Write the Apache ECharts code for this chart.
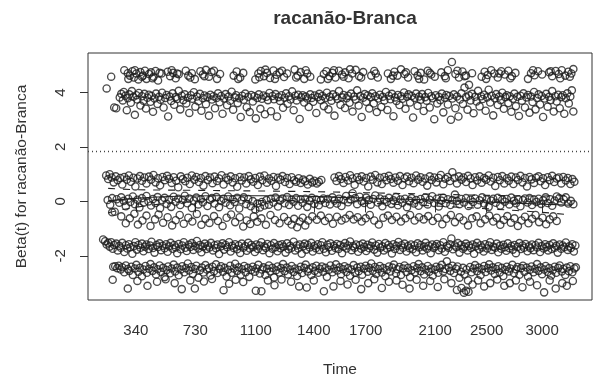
<!DOCTYPE html>
<html>
<head>
<meta charset="utf-8">
<script src="https://cdn.jsdelivr.net/npm/echarts@6/dist/echarts.min.js"></script>
<style>
  html, body { margin: 0; padding: 0; background: #fff; }
  #chart { width: 597px; height: 387px; }
</style>
</head>
<body>
<div id="chart"></div>
<script>
// x is the transformed time scale (0-100), labels are the real times
var timeTicks = [340, 730, 1100, 1400, 1700, 2100, 2500, 3000];
var tickPos = [9.5, 21.3, 33.3, 44.8, 55.1, 68.9, 79.1, 90.1];
var yTicks = [-2, 0, 2, 4];
var coef = 1.83;

// upper group of residuals
var bandTop = [[3.7,4.15],[4.6,4.58],[5.2,3.45],[5.6,3.42],
[7.2,4.82],[7.9,4.71],[8.3,4.62],[8.8,4.78],[9.1,4.55],[9.6,4.7],[10.0,4.48],[10.4,4.75],[10.9,4.62],[11.3,4.8],[11.6,4.5],[12.1,4.68],[12.5,4.74],[13.0,4.58],[13.4,4.79],[13.9,4.44],[14.6,4.7],[15.8,4.76],[16.3,4.6],[16.9,4.72],[17.4,4.52],[18.0,4.67],[19.4,4.8],[19.9,4.62],[20.6,4.71],[21.2,4.49],[22.3,4.78],[22.8,4.66],[23.4,4.83],[24.0,4.58],[24.5,4.75],[25.6,4.5],[26.2,4.68],[28.9,4.62],[29.5,4.77],[30.2,4.55],[30.8,4.72],[33.2,4.48],[33.8,4.7],[34.3,4.79],[34.9,4.6],[35.5,4.72],[36.1,4.53],[36.8,4.81],[37.4,4.65],[38.0,4.74],[38.9,4.57],[39.5,4.7],[41.0,4.84],[41.6,4.62],[42.2,4.75],[42.9,4.5],[43.5,4.7],[44.1,4.58],[46.2,4.48],[46.8,4.68],[47.3,4.78],[47.9,4.6],[48.5,4.72],[49.1,4.55],[49.8,4.8],[50.4,4.66],[51.0,4.74],[51.7,4.52],[52.4,4.7],[53.1,4.83],[53.8,4.6],[54.6,4.75],[56.2,4.62],[56.8,4.79],[57.5,4.55],[59.5,4.7],[60.1,4.5],[60.8,4.76],[61.4,4.62],[62.1,4.85],[62.8,4.68],[63.5,4.55],[64.8,4.78],[65.4,4.62],[66.0,4.72],[66.7,4.48],[67.4,4.8],[68.1,4.66],[68.8,4.58],[70.1,4.74],[70.8,4.6],[71.4,4.82],[72.2,5.12],[72.9,4.68],[73.6,4.55],[74.3,4.77],[75.0,4.62],[75.6,4.28],[76.2,4.71],[78.1,4.58],[78.7,4.76],[79.3,4.64],[80.0,4.82],[80.6,4.7],[81.3,4.55],[82.0,4.78],[82.7,4.66],[83.4,4.8],[84.1,4.6],[84.8,4.72],[87.3,4.5],[87.9,4.71],[88.6,4.63],[89.3,4.78],[90.1,4.66],[91.5,4.74],[92.1,4.6],[92.8,4.79],[93.4,4.68],[94.0,4.82],[94.7,4.62],[95.3,4.76],[95.9,4.7],[96.3,4.86],
[8.0,4.5],[9.3,4.82],[10.7,4.58],[12.8,4.52],[14.2,4.72],[16.6,4.82],[17.7,4.7],[20.3,4.55],[23.1,4.6],[25.0,4.8],[29.8,4.5],[34.0,4.56],[35.2,4.84],[37.1,4.5],[38.5,4.8],[41.3,4.55],[43.2,4.82],[47.6,4.5],[48.8,4.82],[50.7,4.58],[52.0,4.85],[54.2,4.55],[57.1,4.7],[60.5,4.62],[63.1,4.74],[65.7,4.5],[67.8,4.72],[71.0,4.52],[73.3,4.8],[74.7,4.6],[79.0,4.5],[81.6,4.7],[83.8,4.52],[88.3,4.82],[91.8,4.78],[93.7,4.52],[95.6,4.58]];

var bandUpper = [[6.3,3.82],[6.6,3.95],[6.9,3.71],[7.1,4.02],[7.4,3.88],[7.7,3.35],[7.9,3.79],[8.2,3.93],[8.5,3.62],[8.7,4.05],[9.0,3.84],[9.3,3.18],[9.6,3.9],[9.8,3.74],[10.1,3.98],[10.4,3.52],[10.7,3.86],[11.0,3.7],[11.2,3.95],[11.5,3.41],[11.8,3.81],[12.1,3.92],[12.4,3.66],[12.6,3.87],[12.9,3.29],[13.2,3.78],[13.5,3.96],[13.8,3.58],[14.1,3.84],[14.4,3.73],[14.7,3.99],[15.0,3.45],[15.3,3.8],[15.6,3.91],
[15.9,3.12],[16.2,3.85],[16.5,3.69],[16.8,3.97],[17.1,3.55],[17.4,3.83],[17.7,3.76],[18.0,4.06],[18.3,3.38],[18.6,3.88],[18.9,3.72],[19.2,3.93],[19.5,3.6],[19.8,3.81],[20.1,3.25],[20.4,3.9],[20.7,3.77],[21.0,4.01],[21.3,3.48],[21.6,3.85],[21.9,3.68],[22.2,3.95],[22.5,3.33],[22.8,3.79],[23.1,3.89],[23.4,3.57],[23.7,3.83],[24.0,3.15],[24.3,3.92],[24.6,3.74],[24.9,3.86],[25.2,3.42],[25.5,3.8],[25.8,3.97],
[26.1,3.64],[26.4,3.87],[26.7,3.22],[27.0,3.78],[27.3,3.94],[27.6,3.53],[27.9,3.85],[28.2,3.7],[28.5,4.03],[28.8,3.37],[29.1,3.82],[29.4,3.9],[29.7,3.61],[30.0,3.79],[30.3,3.1],[30.6,3.88],[30.9,3.73],[31.2,3.96],[31.5,3.46],[31.8,3.84],[32.1,3.28],[32.4,3.91],[32.7,3.67],[33.0,3.86],[33.3,3.05],[33.6,3.8],[33.9,3.93],[34.2,3.4],[34.5,3.77],[34.8,3.89],[35.1,3.2],[35.4,3.84],[35.7,3.72],[36.0,3.98],
[36.3,3.31],[36.6,3.87],[36.9,3.75],[37.2,3.94],[37.5,3.12],[37.8,3.83],[38.1,3.69],[38.4,3.9],[38.7,3.44],[39.0,3.81],[39.3,3.97],[39.6,3.59],[39.9,3.86],[40.2,3.74],[40.5,4.04],[40.8,3.35],[41.1,3.88],[41.4,3.71],[41.7,3.92],[42.0,3.03],[42.3,3.82],[42.6,3.9],[42.9,3.63],[43.2,3.85],[43.5,3.78],[43.8,3.47],[44.1,3.93],[44.4,3.8],[44.7,3.66],[45.0,3.89],[45.3,3.25],[45.6,3.83],[45.9,3.95],
[46.2,3.72],[46.5,3.87],[46.8,3.5],[47.1,3.8],[47.4,3.99],[47.7,3.38],[48.0,3.84],[48.3,3.7],[48.6,3.93],[48.9,3.15],[49.2,3.86],[49.5,3.76],[49.8,4.05],[50.1,3.55],[50.4,3.82],[50.7,3.91],[51.0,3.43],[51.3,3.79],[51.6,3.88],[51.9,3.62],[52.2,3.96],[52.5,3.3],[52.8,3.85],[53.1,3.74],[53.4,4.08],[53.7,3.52],[54.0,3.87],[54.3,3.1],[54.6,3.81],[54.9,3.94],[55.2,3.66],[55.5,3.89],[55.8,3.41],
[56.1,3.83],[56.4,3.97],[56.7,3.6],[57.0,3.86],[57.3,3.28],[57.6,3.78],[57.9,3.92],[58.2,3.47],[58.5,3.84],[58.8,3.71],[59.1,4.02],[59.4,3.36],[59.7,3.88],[60.0,3.75],[60.3,3.95],[60.6,3.13],[60.9,3.82],[61.2,3.69],[61.5,3.91],[61.8,3.54],[62.1,3.86],[62.4,3.77],[62.7,4.0],[63.0,3.4],[63.3,3.84],[63.6,3.93],[63.9,3.63],[64.2,3.87],[64.5,3.08],[64.8,3.8],[65.1,3.96],[65.4,3.51],[65.7,3.85],
[66.0,3.73],[66.3,3.94],[66.6,3.32],[66.9,3.83],[67.2,3.7],[67.5,3.98],[67.8,3.45],[68.1,3.86],[68.4,3.79],[68.7,3.02],[69.0,3.9],[69.3,3.6],[69.6,3.84],[69.9,3.72],[70.2,3.96],[70.5,3.27],[70.8,3.81],[71.1,3.91],[71.4,3.56],[71.7,3.87],[72.0,3.0],[72.3,3.78],[72.6,3.93],[72.9,3.42],[73.2,3.85],[73.5,3.12],[73.8,3.74],[74.1,3.97],[74.4,3.58],[74.7,4.18],[75.0,3.83],[75.3,3.37],[75.6,3.89],
[75.9,3.71],[76.2,3.95],[76.5,3.24],[76.8,3.84],[77.1,3.67],[77.4,4.06],[77.7,3.49],[78.0,3.86],[78.3,3.76],[78.6,3.92],[78.9,3.33],[79.2,3.82],[79.5,4.1],[79.8,3.63],[80.1,3.88],[80.4,3.16],[80.7,3.79],[81.0,3.94],[81.3,3.54],[81.6,3.85],[81.9,3.72],[82.2,3.99],[82.5,3.4],[82.8,3.83],[83.1,3.9],[83.4,3.61],[83.7,3.86],[84.0,3.29],[84.3,3.77],[84.6,3.96],[84.9,3.5],[85.2,3.84],[85.5,3.14],
[85.8,3.88],[86.1,3.7],[86.4,3.97],[86.7,3.45],[87.0,3.82],[87.3,3.91],[87.6,3.26],[87.9,3.85],[88.2,3.65],[88.5,4.02],[88.8,3.38],[89.1,3.8],[89.4,3.93],[89.7,3.56],[90.0,3.87],[90.3,3.1],[90.6,3.78],[90.9,3.95],[91.2,3.48],[91.5,3.84],[91.8,3.72],[92.1,4.05],[92.4,3.3],[92.7,3.86],[93.0,3.67],[93.3,3.92],[93.6,3.42],[93.9,3.83],[94.2,3.9],[94.5,3.22],[94.8,3.79],[95.1,3.97],[95.4,3.6],[95.7,3.85],[96.0,4.08],[96.3,3.3]];

// middle group
var bandMidHigh = [[3.6,0.95],[4.0,0.82],[4.3,1.0],[4.7,0.88],[5.1,0.7],[5.5,0.92],[5.9,0.78],[6.4,0.86],[6.8,0.62],[7.2,0.9],[7.7,0.8],[8.1,0.95],[8.5,0.72],[9.0,0.87],[9.4,0.55],[9.8,0.84],[10.3,0.93],[10.7,0.76],[11.2,0.88],[11.6,0.66],[12.1,0.91],[12.5,0.8],[13.0,0.97],[13.4,0.7],[13.9,0.85],[14.3,0.59],[14.8,0.9],[15.2,0.78],[15.7,0.94],[16.1,0.83],[16.6,0.68],[17.0,0.89],[17.5,0.76],[17.9,0.52],[18.4,0.92],[18.8,0.82],[19.3,0.74],[19.7,0.87],[20.2,0.64],[20.6,0.95],[21.1,0.8],[21.5,0.9],[22.0,0.71],[22.4,0.86],[22.9,0.58],[23.3,0.93],[23.8,0.79],[24.2,0.88],[24.7,0.67],[25.1,0.91],[25.6,0.75],[26.0,0.84],[26.5,0.96],[26.9,0.62],[27.4,0.87],[27.8,0.79],[28.3,0.92],[28.7,0.7],[29.2,0.85],[29.6,0.54],[30.1,0.9],[30.5,0.77],[31.0,0.88],[31.4,0.66],[31.9,0.93],[32.3,0.81],[32.8,0.72],[33.2,0.86],[33.7,0.6],[34.1,0.91],[34.6,0.78],[35.0,0.95],[35.5,0.69],[35.9,0.84],[36.4,0.76],[36.8,0.9],[37.3,0.57],[37.7,0.87],[38.2,0.8],[38.6,0.93],[39.1,0.71],[39.5,0.86],[40.0,0.64],[40.4,0.89],[40.9,0.78],[41.3,0.72],[41.8,0.85],[42.2,0.68],[42.7,0.8],[43.1,0.74],[43.6,0.62],[44.0,0.83],[44.5,0.7],[44.9,0.76],[45.4,0.66],[45.8,0.72],[46.3,0.79],
[48.9,0.88],[49.3,0.75],[49.8,0.93],[50.2,0.82],[50.7,0.68],[51.1,0.9],[51.6,0.77],[52.0,0.96],[52.5,0.84],[52.9,0.61],[53.4,0.89],[53.8,0.79],[54.3,0.92],[54.7,0.73],[55.2,0.86],[55.6,0.55],[56.1,0.91],[56.5,0.8],[57.0,0.97],[57.4,0.7],[57.9,0.87],[58.3,0.64],[58.8,0.9],[59.2,0.78],[59.7,0.94],[60.1,0.82],[60.6,0.69],[61.0,0.88],[61.5,0.76],[61.9,0.93],[62.4,0.6],[62.8,0.85],[63.3,0.91],[63.7,0.74],[64.2,0.87],[64.6,0.67],[65.1,0.95],[65.5,0.8],[66.0,0.89],[66.4,0.72],[66.9,0.84],[67.3,0.58],[67.8,0.92],[68.2,0.79],[68.7,0.88],[69.1,0.7],[69.6,0.86],[70.0,0.97],[70.5,0.63],[70.9,0.83],[71.4,0.9],[71.8,0.75],[72.3,1.07],[72.7,0.86],[73.2,0.66],[73.6,0.92],[74.1,0.8],[74.5,0.88],[75.0,0.71],[75.4,0.94],[75.9,0.84],[76.3,0.6],[76.8,0.89],[77.2,0.77],[77.7,0.92],[78.1,0.69],[78.6,0.86],[79.0,0.8],[79.5,0.95],[79.9,0.73],[80.4,0.87],[80.8,0.57],[81.3,0.9],[81.7,0.78],[82.2,0.93],[82.6,0.66],[83.1,0.85],[83.5,0.76],[84.0,0.91],[84.4,0.64],[84.9,0.88],[85.3,0.79],[85.8,0.94],[86.2,0.7],[86.7,0.86],[87.1,0.55],[87.6,0.9],[88.0,0.81],[88.5,0.68],[88.9,0.87],[89.4,0.92],[89.8,0.74],[90.3,0.85],[90.7,0.6],[91.2,0.89],[91.6,0.78],[92.1,0.94],[92.5,0.71],[93.0,0.84],[93.4,0.88],[93.9,0.66],[94.3,0.9],[94.8,0.77],[95.2,0.86],[95.7,0.64],[96.1,0.82],[96.5,0.72]];

var bandMid = [[3.9,0.05],[4.4,-0.12],[4.8,0.12],[5.3,-0.38],[5.7,0.08],[6.2,-0.05],[6.6,0.15],[7.1,0.02],[7.5,-0.18],[8.0,0.1],[8.4,-0.02],[8.9,0.18],[9.3,-0.1],[9.8,0.06],[10.2,-0.22],[10.7,0.12],[11.1,-0.04],[11.6,0.2],[12.0,0.0],[12.5,-0.15],[12.9,0.09],[13.4,-0.06],[13.8,0.16],[14.3,-0.25],[14.7,0.04],[15.2,0.13],[15.6,-0.09],[16.1,0.07],[16.5,-0.2],[17.0,0.17],[17.4,-0.01],[17.9,0.1],[18.3,-0.13],[18.8,0.05],[19.2,0.21],[19.7,-0.07],[20.1,0.11],[20.6,-0.24],[21.0,0.03],[21.5,0.14],[21.9,-0.11],[22.4,0.08],[22.8,-0.03],[23.3,0.19],[23.7,-0.17],[24.2,0.06],[24.6,0.12],[25.1,-0.08],[25.5,0.16],[26.0,-0.21],[26.4,0.02],[26.9,0.1],[27.3,-0.05],[27.8,0.18],[28.2,-0.14],[28.7,0.07],[29.1,-0.02],[29.6,0.13],[30.0,-0.26],[30.5,0.04],[30.9,0.15],[31.4,-0.1],[31.8,0.09],[32.3,-0.18],[32.7,0.01],[33.2,-0.3],[33.6,-0.08],[34.1,-0.22],[34.5,-0.02],[35.0,-0.15],[35.4,0.05],[35.9,-0.12],[36.3,0.1],[36.8,-0.04],[37.2,0.14],[37.7,-0.19],[38.1,0.03],[38.6,0.11],[39.0,-0.07],[39.5,0.16],[39.9,-0.13],[40.4,0.06],[40.8,-0.01],[41.3,0.12],[41.7,-0.16],[42.2,0.08],[42.6,-0.05],[43.1,0.1],[43.5,-0.2],[44.0,0.02],[44.4,0.13],[44.9,-0.09],[45.3,0.07],[45.8,-0.14],[46.2,0.04],[46.7,0.11],[47.1,-0.06],[47.6,0.09],[48.0,-0.11],[48.5,0.15],[48.9,0.03],[49.4,-0.08],[49.8,0.1],[50.3,-0.17],[50.7,0.05],[51.2,0.2],[51.6,-0.03],[52.1,0.08],[52.5,0.3],[53.0,0.12],[53.4,-0.1],[53.9,0.17],[54.3,0.01],[54.8,-0.06],[55.2,0.14],[55.7,0.05],[56.1,-0.12],[56.6,0.09],[57.0,0.22],[57.5,-0.04],[57.9,0.11],[58.4,-0.18],[58.8,0.06],[59.3,-0.02],[59.7,0.13],[60.2,-0.09],[60.6,0.04],[61.1,0.16],[61.5,-0.14],[62.0,0.07],[62.4,-0.05],[62.9,0.1],[63.3,-0.21],[63.8,0.02],[64.2,0.12],[64.7,-0.08],[65.1,0.05],[65.6,-0.16],[66.0,0.09],[66.5,-0.03],[66.9,0.14],[67.4,-0.11],[67.8,0.06],[68.3,0.19],[68.7,-0.06],[69.2,0.1],[69.6,-0.19],[70.1,0.03],[70.5,0.13],[71.0,-0.07],[71.4,0.08],[71.9,-0.13],[72.3,0.05],[72.8,0.25],[73.2,0.02],[73.7,-0.1],[74.1,0.09],[74.6,-0.04],[75.0,0.12],[75.5,-0.17],[75.9,0.06],[76.4,-0.02],[76.8,0.11],[77.3,-0.12],[77.7,0.04],[78.2,0.15],[78.6,-0.08],[79.1,0.07],[79.5,-0.2],[80.0,0.03],[80.4,0.1],[80.9,-0.05],[81.3,0.13],[81.8,-0.15],[82.2,0.06],[82.7,-0.01],[83.1,0.09],[83.6,-0.11],[84.0,0.14],[84.5,0.02],[84.9,-0.07],[85.4,0.08],[85.8,-0.18],[86.3,0.05],[86.7,0.11],[87.2,-0.04],[87.6,0.12],[88.1,-0.13],[88.5,0.07],[89.0,-0.02],[89.4,0.1],[89.9,-0.09],[90.3,0.04],[90.8,0.15],[91.2,-0.06],[91.7,0.08],[92.1,-0.16],[92.6,0.03],[93.0,0.18],[93.5,0.12],[93.9,-0.04],[94.4,0.07],[94.8,0.15],[95.3,-0.08],[95.8,0.02],[96.3,-0.1]];

var bandMidLow = [[4.8,-0.4],[6.6,-0.55],[7.5,-0.8],[8.3,-0.62],[9.2,-0.45],[9.9,-0.85],[10.8,-0.7],[11.6,-0.52],[12.4,-0.9],[13.3,-0.66],[14.0,-0.48],[14.9,-0.78],[15.8,-0.58],[16.7,-0.88],[17.4,-0.69],[18.2,-0.5],[19.0,-0.82],[19.9,-0.6],[20.7,-0.74],[21.6,-0.46],[22.5,-0.86],[23.3,-0.64],[24.1,-0.79],[25.0,-0.54],[25.8,-0.72],[26.7,-0.9],[27.5,-0.6],[28.4,-0.48],[29.2,-0.76],[30.1,-0.58],[30.8,-0.92],[31.5,-0.7],[32.2,-0.83],[32.9,-0.55],[33.6,-0.75],[34.4,-0.62],[35.3,-0.86],[36.2,-0.5],[37.1,-0.68],[38.0,-0.8],[38.9,-0.57],[39.7,-0.72],[40.4,-0.85],[40.9,-0.64],[41.5,-0.95],[42.0,-0.74],[42.6,-0.6],[43.1,-0.88],[43.7,-0.7],[44.5,-0.55],[45.4,-0.67],[46.2,-0.52],[47.0,-0.72],[47.8,-0.6],[48.6,-0.82],[49.4,-0.56],[50.3,-0.7],[51.1,-0.63],[51.9,-0.5],[52.7,-0.66],[53.5,-0.58],[54.3,-0.74],[55.1,-0.62],[55.9,-0.5],[56.8,-0.7],[57.7,-0.85],[58.6,-0.6],[59.5,-0.52],[60.3,-0.68],[61.2,-0.56],[62.1,-0.74],[63.0,-0.62],[63.9,-0.5],[64.8,-0.7],[65.7,-0.58],[66.6,-0.66],[67.5,-0.54],[68.4,-0.72],[69.4,-0.6],[70.3,-0.84],[71.1,-0.64],[72.0,-0.5],[72.8,-0.76],[73.7,-0.58],[74.5,-0.7],[75.4,-0.88],[76.2,-0.62],[77.1,-0.55],[77.9,-0.8],[78.8,-0.66],[79.6,-0.52],[80.4,-0.74],[81.1,-0.6],[81.8,-0.86],[82.5,-0.68],[83.2,-0.54],[83.9,-0.78],[84.6,-0.62],[85.3,-0.9],[86.0,-0.7],[86.7,-0.56],[87.4,-0.8],[88.1,-0.64],[88.8,-0.5],[89.5,-0.76],[90.2,-0.6],[90.9,-0.84],[91.6,-0.66],[92.3,-0.55],[93.0,-0.72]];

// lower group
var bandLow = [[3.0,-1.4],[3.4,-1.46],[3.7,-1.58],[4.0,-1.52],[4.3,-1.66],[4.6,-1.5],[4.9,-1.74],[5.2,-1.6],[5.6,-1.55],[5.9,-1.8],[6.2,-1.63],[6.5,-1.7],[6.8,-1.52],[7.2,-1.86],[7.5,-1.61],[7.8,-1.73],[8.1,-1.57],[8.4,-1.68],[8.8,-1.92],[9.1,-1.64],[9.4,-1.5],[9.7,-1.77],[10.0,-1.6],[10.4,-1.7],[10.7,-1.55],[11.0,-1.83],[11.3,-1.66],[11.6,-1.58],[12.0,-1.75],[12.3,-1.62],[12.6,-1.48],[12.9,-1.71],[13.2,-1.88],[13.6,-1.6],[13.9,-1.67],[14.2,-1.54],[14.5,-1.79],[14.8,-1.63],[15.2,-1.72],[15.5,-1.57],[15.8,-1.85],[16.1,-1.65],[16.4,-1.52],[16.8,-1.74],[17.1,-1.6],[17.4,-1.69],[17.7,-1.9],[18.0,-1.56],[18.4,-1.76],[18.7,-1.62],[19.0,-1.5],[19.3,-1.7],[19.6,-1.82],[20.0,-1.59],[20.3,-1.67],[20.6,-1.53],[20.9,-1.78],[21.2,-1.64],[21.6,-1.45],[21.9,-1.73],[22.2,-1.6],[22.5,-1.87],[22.8,-1.66],[23.2,-1.55],[23.5,-1.75],[23.8,-1.62],[24.1,-1.69],[24.4,-1.52],[24.8,-1.8],[25.1,-1.61],[25.4,-1.72],[25.7,-1.58],[26.0,-1.93],[26.4,-1.65],[26.7,-1.54],[27.0,-1.77],[27.3,-1.6],[27.6,-1.68],[28.0,-1.5],[28.3,-1.84],[28.6,-1.63],[28.9,-1.71],[29.2,-1.57],[29.6,-1.76],[29.9,-1.62],[30.2,-1.89],[30.5,-1.55],[30.8,-1.7],[31.2,-1.64],[31.5,-1.81],[31.8,-1.52],[32.1,-1.73],[32.4,-1.6],[32.8,-1.67],[33.1,-1.86],[33.4,-1.58],[33.7,-1.75],[34.0,-1.62],[34.4,-1.5],[34.7,-1.79],[35.0,-1.65],[35.3,-1.71],[35.6,-1.56],[36.0,-1.9],[36.3,-1.61],[36.6,-1.74],[36.9,-1.53],[37.2,-1.68],[37.6,-1.83],[37.9,-1.6],[38.2,-1.72],[38.5,-1.57],[38.8,-1.66],[39.2,-1.88],[39.5,-1.54],[39.8,-1.76],[40.1,-1.63],[40.4,-1.7],[40.8,-1.48],[41.1,-1.8],[41.4,-1.62],[41.7,-1.73],[42.0,-1.58],[42.4,-1.92],[42.7,-1.65],[43.0,-1.55],[43.3,-1.77],[43.6,-1.6],[44.0,-1.69],[44.3,-1.52],[44.6,-1.84],[44.9,-1.64],[45.2,-1.72],[45.6,-1.57],[45.9,-1.78],[46.2,-1.61],[46.5,-1.5],[46.8,-1.74],[47.2,-1.87],[47.5,-1.59],[47.8,-1.68],[48.1,-1.54],[48.4,-1.81],[48.8,-1.63],[49.1,-1.71],[49.4,-1.56],[49.7,-1.75],[50.0,-1.6],[50.4,-1.9],[50.7,-1.66],[51.0,-1.53],[51.3,-1.73],[51.6,-1.62],[52.0,-1.47],[52.3,-1.79],[52.6,-1.64],[52.9,-1.7],[53.2,-1.58],[53.6,-1.85],[53.9,-1.61],[54.2,-1.74],[54.5,-1.55],[54.8,-1.67],[55.2,-1.82],[55.5,-1.59],[55.8,-1.72],[56.1,-1.64],[56.4,-1.51],[56.8,-1.77],[57.1,-1.62],[57.4,-1.88],[57.7,-1.56],[58.0,-1.7],[58.4,-1.65],[58.7,-1.8],[59.0,-1.53],[59.3,-1.73],[59.6,-1.6],[60.0,-1.68],[60.3,-1.91],[60.6,-1.57],[60.9,-1.75],[61.2,-1.63],[61.6,-1.49],[61.9,-1.78],[62.2,-1.61],[62.5,-1.7],[62.8,-1.55],[63.2,-1.84],[63.5,-1.64],[63.8,-1.72],[64.1,-1.58],[64.4,-1.76],[64.8,-1.62],[65.1,-1.87],[65.4,-1.54],[65.7,-1.69],[66.0,-1.6],[66.4,-1.8],[66.7,-1.66],[67.0,-1.52],[67.3,-1.74],[67.6,-1.63],[68.0,-1.9],[68.3,-1.58],[68.6,-1.71],[68.9,-1.65],[69.2,-1.56],[69.6,-1.79],[69.9,-1.61],[70.2,-1.73],[70.5,-1.5],[70.8,-1.85],[71.2,-1.64],[71.5,-1.7],[71.8,-1.57],[72.1,-1.36],[72.4,-1.76],[72.8,-1.62],[73.1,-1.68],[73.4,-1.53],[73.7,-1.88],[74.0,-1.6],[74.4,-1.74],[74.7,-1.66],[75.0,-1.55],[75.3,-1.8],[75.6,-1.63],[76.0,-1.71],[76.3,-1.58],[76.6,-1.92],[76.9,-1.65],[77.2,-1.52],[77.6,-1.76],[77.9,-1.61],[78.2,-1.69],[78.5,-1.84],[78.8,-1.57],[79.2,-1.73],[79.5,-1.62],[79.8,-1.5],[80.1,-1.78],[80.4,-1.66],[80.8,-1.7],[81.1,-1.55],[81.4,-1.87],[81.7,-1.63],[82.0,-1.74],[82.4,-1.59],[82.7,-1.68],[83.0,-1.81],[83.3,-1.54],[83.6,-1.72],[84.0,-1.64],[84.3,-1.77],[84.6,-1.6],[84.9,-1.9],[85.2,-1.67],[85.6,-1.53],[85.9,-1.75],[86.2,-1.62],[86.5,-1.7],[86.8,-1.56],[87.2,-1.83],[87.5,-1.65],[87.8,-1.72],[88.1,-1.58],[88.4,-1.79],[88.8,-1.61],[89.1,-1.69],[89.4,-1.52],[89.7,-1.86],[90.0,-1.64],[90.4,-1.73],[90.7,-1.57],[91.0,-1.67],[91.3,-1.8],[91.6,-1.6],[92.0,-1.75],[92.3,-1.54],[92.6,-1.7],[92.9,-1.63],[93.2,-1.88],[93.6,-1.58],[93.9,-1.74],[94.2,-1.62],[94.5,-1.68],[94.8,-1.51],[95.2,-1.78],[95.5,-1.65],[95.8,-1.71],[96.1,-1.57],[96.4,-1.84],[96.7,-1.62]];

var bandBottom = [[5.0,-2.4],[5.4,-2.38],[5.8,-2.45],[6.1,-2.36],[6.5,-2.5],[6.8,-2.42],[7.2,-2.6],[7.5,-2.35],[7.9,-2.48],[8.2,-2.55],[8.6,-2.4],[8.9,-2.7],[9.3,-2.46],[9.6,-2.33],[10.0,-2.58],[10.3,-2.44],[10.7,-2.75],[11.0,-2.5],[11.4,-2.37],[11.7,-2.62],[12.1,-2.47],[12.4,-2.3],[12.8,-2.55],[13.1,-2.42],[13.5,-2.68],[13.8,-2.49],[14.2,-2.35],[14.5,-2.59],[14.9,-2.44],[15.2,-2.78],[15.6,-2.52],[15.9,-2.39],[16.3,-2.64],[16.6,-2.46],[17.0,-2.32],[17.3,-2.57],[17.7,-2.43],[18.0,-2.71],[18.4,-2.5],[18.7,-2.38],[19.1,-2.6],[19.4,-2.45],[19.8,-2.28],[20.1,-2.54],[20.5,-2.41],[20.8,-2.66],[21.2,-2.48],[21.5,-2.36],[21.9,-2.8],[22.2,-2.53],[22.6,-2.43],[22.9,-2.61],[23.3,-2.34],[23.6,-2.5],[24.0,-2.45],[24.3,-2.72],[24.7,-2.4],[25.0,-2.56],[25.4,-2.31],[25.7,-2.63],[26.1,-2.47],[26.4,-2.38],[26.8,-2.58],[27.1,-2.44],[27.5,-2.76],[27.8,-2.51],[28.2,-2.36],[28.5,-2.62],[28.9,-2.46],[29.2,-2.29],[29.6,-2.55],[29.9,-2.42],[30.3,-2.69],[30.6,-2.49],[31.0,-2.37],[31.3,-2.6],[31.7,-2.44],[32.0,-2.77],[32.4,-2.52],[32.7,-2.4],[33.1,-2.58],[33.4,-2.46],[33.8,-2.33],[34.1,-2.65],[34.5,-2.5],[34.8,-2.42],[35.2,-2.7],[35.5,-2.47],[35.9,-2.35],[36.2,-2.57],[36.6,-2.44],[36.9,-2.79],[37.3,-2.53],[37.6,-2.39],[38.0,-2.61],[38.3,-2.45],[38.7,-2.3],[39.0,-2.56],[39.4,-2.43],[39.7,-2.68],[40.1,-2.5],[40.4,-2.37],[40.8,-2.59],[41.1,-2.46],[41.5,-2.74],[41.8,-2.52],[42.2,-2.4],[42.5,-2.63],[42.9,-2.44],[43.2,-2.32],[43.6,-2.57],[43.9,-2.48],[44.3,-2.7],[44.6,-2.42],[45.0,-2.55],[45.3,-2.36],[45.7,-2.62],[46.0,-2.47],[46.4,-2.39],[46.7,-2.58],[47.1,-2.44],[47.4,-2.77],[47.8,-2.51],[48.1,-2.35],[48.5,-2.6],[48.8,-2.46],[49.2,-2.31],[49.5,-2.54],[49.9,-2.42],[50.2,-2.67],[50.6,-2.49],[50.9,-2.38],[51.3,-2.59],[51.6,-2.45],[52.0,-2.73],[52.3,-2.5],[52.7,-2.34],[53.0,-2.62],[53.4,-2.43],[53.7,-2.56],[54.1,-2.4],[54.4,-2.69],[54.8,-2.47],[55.1,-2.36],[55.5,-2.58],[55.8,-2.44],[56.2,-2.28],[56.5,-2.55],[56.9,-2.41],[57.2,-2.66],[57.6,-2.48],[57.9,-2.37],[58.3,-2.61],[58.6,-2.45],[59.0,-2.75],[59.3,-2.52],[59.7,-2.39],[60.0,-2.57],[60.4,-2.43],[60.7,-2.32],[61.1,-2.64],[61.4,-2.49],[61.8,-2.41],[62.1,-2.7],[62.5,-2.46],[62.8,-2.35],[63.2,-2.59],[63.5,-2.44],[63.9,-2.78],[64.2,-2.53],[64.6,-2.38],[64.9,-2.6],[65.3,-2.45],[65.6,-2.3],[66.0,-2.56],[66.3,-2.42],[66.7,-2.68],[67.0,-2.5],[67.4,-2.37],[67.7,-2.58],[68.1,-2.46],[68.4,-2.72],[68.8,-2.51],[69.1,-2.4],[69.5,-2.62],[69.8,-2.44],[70.2,-2.33],[70.5,-2.57],[70.9,-2.48],[71.2,-2.2],[71.6,-2.43],[71.9,-2.55],[72.3,-2.36],[72.6,-2.63],[73.0,-2.47],[73.3,-2.39],[73.7,-2.8],[74.0,-2.58],[74.4,-2.44],[74.7,-2.68],[75.1,-2.5],[75.4,-2.9],[75.8,-2.41],[76.1,-2.6],[76.5,-2.46],[76.8,-2.34],[77.2,-2.56],[77.5,-2.43],[77.9,-2.7],[78.2,-2.49],[78.6,-2.37],[78.9,-2.59],[79.3,-2.45],[79.6,-2.31],[80.0,-2.54],[80.3,-2.42],[80.7,-2.66],[81.0,-2.48],[81.4,-2.38],[81.7,-2.61],[82.1,-2.44],[82.4,-2.74],[82.8,-2.52],[83.1,-2.4],[83.5,-2.57],[83.8,-2.46],[84.2,-2.33],[84.5,-2.63],[84.9,-2.49],[85.2,-2.41],[85.6,-2.69],[85.9,-2.45],[86.3,-2.36],[86.6,-2.58],[87.0,-2.43],[87.3,-2.76],[87.7,-2.51],[88.0,-2.39],[88.4,-2.6],[88.7,-2.47],[89.1,-2.3],[89.4,-2.55],[89.8,-2.42],[90.1,-2.67],[90.5,-2.5],[90.8,-2.37],[91.2,-2.59],[91.5,-2.45],[91.9,-2.72],[92.2,-2.53],[92.6,-2.4],[92.9,-2.62],[93.3,-2.44],[93.6,-2.35],[94.0,-2.57],[94.3,-2.48],[94.7,-2.7],[95.0,-2.43],[95.4,-2.56],[95.7,-2.38],[96.1,-2.6],[96.5,-2.46],[96.8,-2.42],
[4.9,-2.88],[7.9,-3.2],[9.8,-2.92],[11.8,-3.1],[13.7,-2.95],[15.4,-2.86],[17.2,-3.0],[18.6,-3.22],[20.3,-2.9],[21.2,-3.2],[23.0,-2.94],[24.6,-2.85],[26.9,-3.26],[28.0,-3.02],[29.3,-2.88],[30.8,-2.96],[33.3,-3.28],[34.4,-3.3],[35.7,-2.9],[37.0,-3.08],[38.4,-2.87],[40.3,-2.95],[41.9,-3.12],[43.4,-3.16],[44.8,-2.9],[46.8,-3.3],[48.7,-3.12],[50.1,-2.92],[51.5,-3.05],[53.1,-2.88],[54.2,-3.22],[55.6,-3.0],[56.8,-2.86],[58.3,-3.18],[59.7,-2.95],[61.2,-2.9],[62.4,-3.06],[63.8,-3.2],[65.2,-2.88],[66.5,-3.1],[67.9,-2.92],[69.4,-3.14],[70.7,-2.86],[72.1,-3.0],[73.2,-3.25],[74.1,-3.18],[74.6,-3.35],[75.0,-3.28],[75.5,-3.32],[76.3,-3.05],[77.4,-2.9],[78.6,-3.12],[79.8,-3.0],[81.2,-2.87],[82.6,-3.1],[83.7,-3.0],[84.9,-2.9],[86.2,-3.15],[87.7,-2.95],[89.1,-3.08],[90.5,-3.34],[91.6,-2.9],[92.8,-3.2],[94.1,-3.0],[95.0,-3.1],[96.2,-2.92]];

// smooth fit and its +-2se band
var fitX = [4, 10, 20, 30, 40, 50, 60, 70, 80, 90, 96];
var fitY = [0.02, 0.12, 0.2, 0.21, 0.2, 0.15, 0.1, 0.04, -0.03, -0.1, -0.14];
var fitUpper = [0.48, 0.43, 0.41, 0.39, 0.37, 0.34, 0.3, 0.26, 0.22, 0.2, 0.22];
var fitLower = [-0.42, -0.2, -0.02, 0.03, 0.03, -0.04, -0.1, -0.18, -0.28, -0.4, -0.5];

function pairs(xs, ys){
    var out = [];
    for(var i=0; i<xs.length; i++){
        out.push([xs[i], ys[i]]);
    }
    return out;
}

var allPoints = bandTop.concat(bandUpper, bandMidHigh, bandMid, bandMidLow, bandLow, bandBottom);
var font = '"Liberation Sans", Arial, Helvetica, sans-serif';
var ink = '#333';

var option = {
    animation: false,
    backgroundColor: '#fff',
    title: {
        text: 'racanão-Branca',
        left: 340,
        top: 4,
        textAlign: 'center',
        textStyle: { fontFamily: font, fontSize: 19, fontWeight: 'bold', color: '#333' }
    },
    grid: {
        left: 88, right: 5, top: 53, bottom: 87,
        show: true, borderColor: ink, borderWidth: 1
    },
    xAxis: {
        type: 'value',
        min: 0, max: 100,
        name: 'Time',
        nameLocation: 'middle',
        nameGap: 62,
        nameTextStyle: { fontFamily: font, fontSize: 15.5, color: ink },
        axisLine: { show: false },
        splitLine: { show: false },
        axisTick: { show: true, length: 11, customValues: tickPos, lineStyle: { color: ink } },
        axisLabel: {
            customValues: tickPos,
            margin: 23,
            fontFamily: font, fontSize: 15, color: ink,
            formatter: function(v){
                for(var i=0; i<tickPos.length; i++){
                    if(Math.abs(tickPos[i] - v) < 0.01) return String(timeTicks[i]);
                }
                return '';
            }
        }
    },
    yAxis: {
        type: 'value',
        min: -3.62, max: 5.45,
        name: 'Beta(t) for racanão-Branca',
        nameLocation: 'middle',
        nameGap: 58,
        nameTextStyle: { fontFamily: font, fontSize: 15.5, color: ink },
        axisLine: { show: false },
        splitLine: { show: false },
        axisTick: { show: true, length: 8, customValues: yTicks, lineStyle: { color: ink } },
        axisLabel: {
            customValues: yTicks,
            rotate: 90,
            margin: 20,
            fontFamily: font, fontSize: 15, color: ink
        }
    },
    series: [
        {
            type: 'scatter',
            data: allPoints,
            symbol: 'circle',
            symbolSize: 7.2,
            itemStyle: { color: 'rgba(0,0,0,0)', borderColor: '#1e1e1e', borderWidth: 1.35 },
            silent: true,
            markLine: {
                silent: true,
                symbol: ['none', 'none'],
                label: { show: false },
                lineStyle: { color: '#444', type: [1, 3], width: 1.4 },
                data: [{ yAxis: coef }]
            }
        },
        {
            type: 'line', data: pairs(fitX, fitY), smooth: true, showSymbol: false,
            lineStyle: { color: '#222', width: 1.1 }, silent: true
        },
        {
            type: 'line', data: pairs(fitX, fitUpper), smooth: true, showSymbol: false,
            lineStyle: { color: '#222', width: 1.1, type: [7, 8] }, silent: true
        },
        {
            type: 'line', data: pairs(fitX, fitLower), smooth: true, showSymbol: false,
            lineStyle: { color: '#222', width: 1.1, type: [7, 8] }, silent: true
        }
    ]
};

var myChart = echarts.init(document.getElementById('chart'));
myChart.setOption(option);
</script>
</body>
</html>
